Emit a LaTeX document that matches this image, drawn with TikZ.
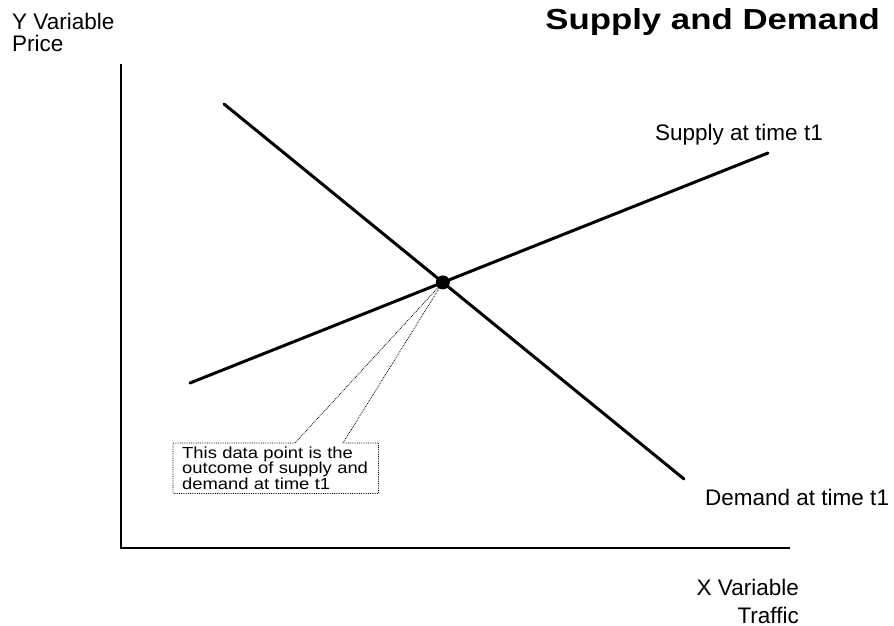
\documentclass[tikz,border=0pt]{standalone}
\usepackage{fontspec}
\setmainfont{Liberation Sans}
\newfontfamily\titlefont[FakeStretch=1.2]{Liberation Sans}
\newfontfamily\notefont[FakeStretch=1.15]{Liberation Sans}
\usetikzlibrary{calc,intersections}
\begin{document}
\begin{tikzpicture}[x=1pt,y=-1pt,
  axisline/.style={line width=2.5pt,line cap=rect},
  curve/.style={line width=3pt,line cap=round},
  label/.style={inner sep=0pt,font=\fontsize{22.5}{22.5}\selectfont},
  notebox/.style={densely dotted,line width=0.8pt},
  notetext/.style={inner xsep=9pt,inner ysep=3pt,align=left,text width=187pt,
    minimum height=50pt,font=\notefont\fontsize{16}{15.8}\selectfont},
  eqdot/.style={circle,fill=black,inner sep=0pt,minimum size=14pt}]
\useasboundingbox (0,0) rectangle (894,626);
\fill[white] (0,0) rectangle (894,626);

% axes
\coordinate (ytop) at (121,65);
\coordinate (origin) at (121,548);
\coordinate (xend) at (789,548);
\draw[axisline] (ytop) -- (origin) -- (xend);

% demand and supply curves
\coordinate (d0) at (224,104);
\coordinate (d1) at (684,479);
\coordinate (s0) at (190,383);
\coordinate (s1) at (768,153);
\draw[curve,name path=demand] (d0) -- (d1);
\draw[curve,name path=supply] (s0) -- (s1);
\path[name intersections={of=demand and supply,by=eq}];
\node[eqdot] (pt) at (eq) {};

% callout describing the equilibrium point
\node[notetext,anchor=north west] (note) at (173,443)
  {This data point is the\\outcome of supply and\\demand at time t1};
\coordinate (tipa) at (295,443);
\coordinate (tipb) at (343,443);
\draw[notebox] (note.north west) -- (tipa) -- (pt.center) -- (tipb)
  -- (note.north east) -- (note.south east) -- (note.south west) -- cycle;

% titles and labels
\node[inner sep=0pt,anchor=base east,font=\titlefont\bfseries\fontsize{29}{29}\selectfont]
  (title) at (880,30) {Supply and Demand};
\node[label,anchor=base west] (ylab) at (12,30) {Y Variable};
\node[label,anchor=base west] (yname) at (12,52) {Price};
\node[label,anchor=base west] (slab) at (655,140) {Supply at time t1};
\node[label,anchor=base west] (dlab) at (705,505) {Demand at time t1};
\node[label,anchor=base east] (xlab) at (799,595) {X Variable};
\node[label,anchor=base east] (xname) at (799,623) {Traffic};
\end{tikzpicture}
\end{document}
